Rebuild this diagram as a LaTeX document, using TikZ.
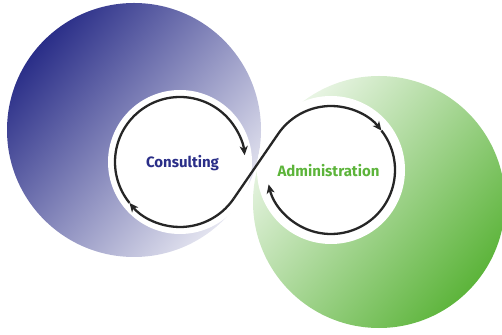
\documentclass[tikz,border=0pt]{standalone}
\usepackage{xcolor}
\usepackage{fontspec}
\setsansfont{Fira Sans}
\usepackage{tikz}
\usetikzlibrary{arrows.meta}
\definecolor{consblue}{HTML}{2A2E88}
\definecolor{admingreen}{HTML}{5CB43A}
\tikzstyle{hole} = [fill=white]
\tikzstyle{loopline} = [line width=2.3pt, draw=black!85]
\tikzstyle{arrow} = [loopline, -{Stealth[length=9pt,width=8pt,inset=2.5pt]}]
\tikzstyle{title} = [font=\sffamily\bfseries\fontsize{15}{18}\selectfont, anchor=base]

\begin{document}
\begin{tikzpicture}[x=1pt,y=1pt]
    \useasboundingbox (0,0) rectangle (502,334);
    \coordinate (lc) at (180,172);
    \coordinate (rc) at (331,164);
    \shade[top color=consblue, middle color=consblue!72, bottom color=consblue!12, shading angle=50]
        (134,204) circle (127);
    \shade[top color=admingreen!12, middle color=admingreen!60, bottom color=admingreen, shading angle=50]
        (379,132) circle (126);
    \fill[hole] (lc) circle (72);
    \fill[hole] (rc) circle (74);
    \draw [arrow] ([shift={(-34.4:65)}]lc) arc[start angle=-34.4, end angle=-141, radius=65];
    \draw [arrow] ([shift={(-141:65)}]lc) arc[start angle=-141, end angle=-354, radius=65];
    \draw [arrow] ([shift={(-34.4:65)}]lc) -- ([shift={(145.6:64)}]rc)
        arc[start angle=145.6, end angle=38, radius=64];
    \draw [arrow] ([shift={(38:64)}]rc) arc[start angle=38, end angle=-167, radius=64];
    \node (cons) [title, text=consblue] at (182.5,166) {Consulting};
    \node (admin) [title, text=admingreen] at (328.5,157) {Administration};
\end{tikzpicture}
\end{document}
